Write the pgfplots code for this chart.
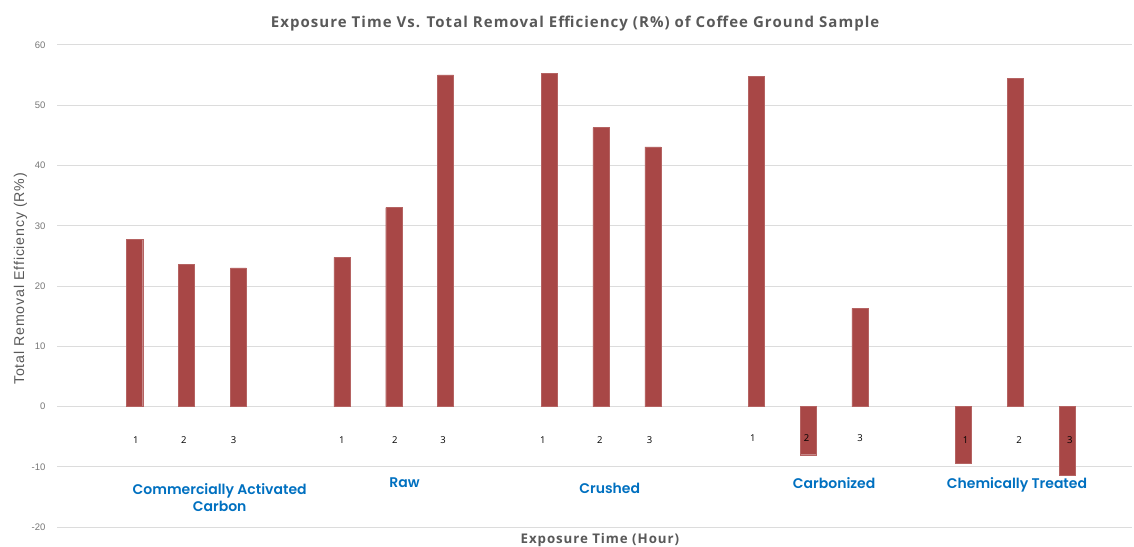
\documentclass[border=0pt]{standalone}
\usepackage{pgfplots}
\pgfplotsset{compat=1.18}
\usepackage{fontspec}
\setmainfont{Open Sans}
\newfontfamily\titlefont[LetterSpace=7]{Open Sans}
\newfontfamily\ylabfont[LetterSpace=6]{Liberation Sans}
\newfontfamily\tickfont{Liberation Sans}
\newfontfamily\grpfont{Poppins SemiBold}
\definecolor{barred}{RGB}{168,71,70}
\definecolor{lblblue}{RGB}{0,112,192}
\definecolor{txtgray}{RGB}{89,89,89}
\definecolor{tickgray}{RGB}{118,118,118}
\definecolor{gridgray}{RGB}{220,220,220}
\tikzset{
  num/.style={font=\fontsize{9.5}{11}\selectfont, text=black},
  grp/.style={font=\grpfont\fontsize{14}{17.5}\selectfont, text=lblblue, align=center},
}
\begin{document}
\begin{tikzpicture}
\path[use as bounding box] (0,0) rectangle (1134pt,546pt);
\begin{axis}[
  at={(57pt,19pt)}, anchor=south west,
  scale only axis, width=1075pt, height=482pt,
  xmin=-1.5, xmax=19.25, ymin=-20, ymax=60,
  ytick={-20,-10,...,60},
  xtick=\empty,
  axis line style={draw=none},
  major tick length=0pt,
  ymajorgrids, grid style={gridgray, line width=1pt},
  yticklabel style={font=\tickfont\fontsize{9.5}{11}\selectfont, text=tickgray, xshift=-8pt},
  /pgf/number format/assume math mode=true,
  ylabel={Total Removal Efficiency (R\%)},
  ylabel style={at={(axis description cs:-0.034,0.515)}, anchor=center, font=\ylabfont\fontsize{14.2}{17}\selectfont, text=txtgray},
  xlabel={Exposure Time (Hour)},
  xlabel style={at={(axis description cs:0.505,0)}, anchor=center, yshift=-13pt, font=\titlefont\fontsize{13.3}{15}\selectfont\bfseries, text=txtgray},
  title={Exposure Time Vs. Total Removal Efficiency (R\%) of Coffee Ground Sample},
  title style={at={(axis description cs:0.482,1)}, anchor=center, yshift=15pt, font=\titlefont\fontsize{15}{17}\selectfont\bfseries, text=txtgray},
  clip=false,
]
\addplot[ybar, bar width=0.31, fill=barred, draw=barred!85!white, line width=0.4pt] coordinates {
  (0,27.7) (1,23.65) (2,23.0)
  (4,24.75) (5,33.0) (6,55.05)
  (8,55.3) (9,46.3) (10,43.1)
  (12,54.75) (13,-8.0) (14,16.3)
  (16,-9.45) (17,54.5) (18,-11.35)
};
\node[num] at (axis cs:0.02,-5.5) {1};
\node[num] at (axis cs:0.95,-5.5) {2};
\node[num] at (axis cs:1.91,-5.5) {3};
\node[num] at (axis cs:4.0,-5.5) {1};
\node[num] at (axis cs:5.02,-5.5) {2};
\node[num] at (axis cs:5.95,-5.5) {3};
\node[num] at (axis cs:7.88,-5.5) {1};
\node[num] at (axis cs:8.98,-5.5) {2};
\node[num] at (axis cs:9.94,-5.5) {3};
\node[num] at (axis cs:11.93,-5.2) {1};
\node[num] at (axis cs:12.97,-5.2) {2};
\node[num] at (axis cs:14.0,-5.2) {3};
\node[num] at (axis cs:16.04,-5.5) {1};
\node[num] at (axis cs:17.07,-5.5) {2};
\node[num] at (axis cs:18.05,-5.5) {3};
\node[grp] at (axis cs:1.64,-15.1) {Commercially Activated\\Carbon};
\node[grp] at (axis cs:5.21,-12.65) {Raw};
\node[grp] at (axis cs:9.17,-13.65) {Crushed};
\node[grp] at (axis cs:13.5,-12.65) {Carbonized};
\node[grp] at (axis cs:17.03,-13.0) {Chemically Treated};
\end{axis}
\end{tikzpicture}
\end{document}
